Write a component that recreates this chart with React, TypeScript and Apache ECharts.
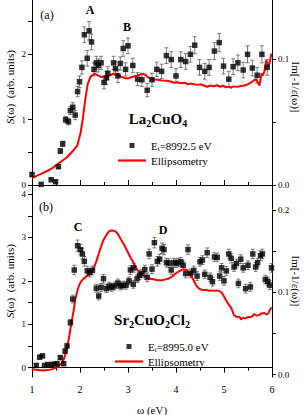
import React, { useEffect, useRef } from "react";
import * as echarts from "echarts";

// ---------- Data ----------
// Panel (a) La2CuO4 : RIXS S(ω) points (x in eV, y in arb. units) with error half-widths
const topPtsX = [1.00, 1.19, 1.40, 1.49, 1.55, 1.59, 1.64, 1.70, 1.76, 1.80, 1.85, 1.90, 1.95, 1.99, 2.04, 2.09, 2.15, 2.19, 2.24, 2.29, 2.34, 2.38, 2.44, 2.50, 2.55, 2.58, 2.70, 2.74, 2.79, 2.84, 2.90, 2.95, 3.00, 3.10, 3.20, 3.29, 3.40, 3.50, 3.60, 3.70, 3.80, 3.90, 4.00, 4.10, 4.20, 4.30, 4.39, 4.49, 4.60, 4.69, 4.80, 4.90, 4.99, 5.10, 5.19, 5.29, 5.40, 5.49, 5.59, 5.69, 5.79, 5.90];
const topPtsY = [0.16, 0.01, 0.08, 0.05, 0.28, 0.52, 0.63, 1.00, 0.97, 1.14, 1.19, 1.07, 1.43, 1.58, 1.80, 2.30, 1.94, 2.36, 2.19, 1.77, 1.87, 1.83, 1.87, 1.57, 1.64, 1.71, 1.87, 1.78, 1.67, 1.86, 2.09, 1.77, 2.13, 1.83, 1.62, 1.61, 1.45, 1.61, 1.77, 1.74, 1.98, 1.92, 1.67, 1.92, 1.89, 2.00, 2.14, 1.80, 1.74, 1.80, 2.05, 2.18, 1.82, 1.62, 1.81, 1.87, 1.76, 2.00, 1.79, 1.68, 2.00, 1.80];
const topPtsErr = [0.03, 0.02, 0.02, 0.02, 0.03, 0.04, 0.04, 0.05, 0.05, 0.06, 0.07, 0.07, 0.08, 0.09, 0.10, 0.12, 0.12, 0.14, 0.12, 0.10, 0.10, 0.10, 0.10, 0.10, 0.10, 0.10, 0.10, 0.10, 0.10, 0.10, 0.12, 0.10, 0.12, 0.11, 0.10, 0.10, 0.10, 0.10, 0.11, 0.11, 0.12, 0.12, 0.11, 0.12, 0.12, 0.12, 0.13, 0.12, 0.12, 0.12, 0.13, 0.14, 0.12, 0.12, 0.12, 0.12, 0.12, 0.13, 0.12, 0.12, 0.13, 0.12];
// Panel (a) ellipsometry Im[-1/ε(ω)]
const topLineX = [1.00, 1.20, 1.39, 1.55, 1.73, 1.85, 1.94, 2.01, 2.06, 2.11, 2.16, 2.22, 2.31, 2.37, 2.43, 2.55, 2.62, 2.70, 2.77, 2.84, 2.92, 3.00, 3.06, 3.12, 3.20, 3.30, 3.36, 3.40, 3.47, 3.54, 3.62, 3.70, 3.82, 3.90, 3.96, 4.03, 4.10, 4.18, 4.25, 4.30, 4.38, 4.45, 4.51, 4.58, 4.65, 4.72, 4.79, 4.85, 4.92, 4.98, 5.04, 5.10, 5.14, 5.20, 5.28, 5.35, 5.42, 5.50, 5.56, 5.62, 5.67, 5.71, 5.74, 5.78, 5.81, 5.84, 5.88, 5.91, 5.95, 5.99];
const topLineY = [0.0055, 0.0090, 0.0125, 0.0170, 0.0220, 0.0270, 0.0310, 0.0410, 0.0530, 0.0680, 0.0800, 0.0860, 0.0885, 0.0870, 0.0860, 0.0855, 0.0870, 0.0885, 0.0880, 0.0862, 0.0850, 0.0845, 0.0855, 0.0862, 0.0870, 0.0882, 0.0875, 0.0860, 0.0845, 0.0838, 0.0835, 0.0830, 0.0827, 0.0820, 0.0812, 0.0815, 0.0808, 0.0812, 0.0800, 0.0805, 0.0800, 0.0795, 0.0800, 0.0790, 0.0780, 0.0790, 0.0784, 0.0792, 0.0780, 0.0788, 0.0776, 0.0781, 0.0772, 0.0783, 0.0779, 0.0786, 0.0790, 0.0800, 0.0812, 0.0830, 0.0840, 0.0810, 0.0790, 0.0885, 0.0870, 0.0900, 0.0990, 0.0940, 0.0970, 0.1045];

// Panel (b) Sr2CuO2Cl2
const botPtsX = [1.09, 1.16, 1.22, 1.26, 1.33, 1.40, 1.47, 1.52, 1.59, 1.66, 1.69, 1.73, 1.80, 1.85, 1.88, 1.95, 2.01, 2.05, 2.09, 2.15, 2.20, 2.26, 2.34, 2.39, 2.44, 2.49, 2.55, 2.61, 2.66, 2.72, 2.79, 2.84, 2.90, 2.96, 3.02, 3.05, 3.11, 3.12, 3.19, 3.24, 3.29, 3.35, 3.40, 3.44, 3.50, 3.55, 3.61, 3.66, 3.71, 3.75, 3.80, 3.85, 3.90, 3.95, 4.00, 4.05, 4.10, 4.15, 4.20, 4.25, 4.30, 4.37, 4.44, 4.50, 4.55, 4.60, 4.65, 4.71, 4.76, 4.80, 4.86, 4.91, 4.95, 5.00, 5.05, 5.10, 5.15, 5.21, 5.26, 5.30, 5.35, 5.40, 5.45, 5.50, 5.55, 5.60, 5.66, 5.70, 5.76, 5.80, 5.86, 5.91, 5.95, 5.99];
const botPtsY = [0.05, 0.24, 0.27, 0.05, 0.07, 0.07, 0.08, 0.09, 0.23, 0.09, 0.38, 0.50, 1.04, 1.58, 2.25, 2.81, 2.72, 2.62, 2.45, 2.23, 2.19, 2.24, 1.83, 1.65, 1.85, 2.05, 1.82, 1.88, 1.85, 1.88, 1.95, 1.88, 1.90, 1.90, 2.00, 2.25, 1.92, 2.30, 2.05, 2.13, 2.17, 2.26, 2.08, 2.62, 2.27, 2.88, 2.45, 2.50, 2.75, 2.72, 2.42, 2.41, 2.25, 2.42, 2.41, 2.42, 2.44, 2.36, 2.17, 2.72, 2.17, 2.24, 2.11, 2.44, 2.48, 2.15, 2.65, 2.08, 1.98, 2.55, 2.54, 2.11, 2.30, 2.00, 2.23, 2.62, 2.52, 2.32, 2.40, 1.94, 2.50, 2.30, 1.82, 2.36, 1.86, 2.62, 2.32, 2.42, 2.58, 2.62, 2.03, 1.99, 1.90, 2.30];
const botPtsErr = [0.03, 0.04, 0.04, 0.03, 0.03, 0.03, 0.03, 0.03, 0.04, 0.04, 0.05, 0.05, 0.07, 0.09, 0.11, 0.13, 0.12, 0.12, 0.11, 0.11, 0.10, 0.10, 0.09, 0.09, 0.09, 0.10, 0.09, 0.09, 0.09, 0.09, 0.09, 0.09, 0.09, 0.09, 0.09, 0.10, 0.09, 0.10, 0.09, 0.10, 0.10, 0.10, 0.10, 0.11, 0.10, 0.12, 0.11, 0.11, 0.12, 0.12, 0.10, 0.10, 0.10, 0.10, 0.10, 0.10, 0.10, 0.10, 0.10, 0.11, 0.10, 0.10, 0.10, 0.10, 0.10, 0.10, 0.11, 0.10, 0.10, 0.10, 0.10, 0.10, 0.10, 0.10, 0.10, 0.11, 0.11, 0.10, 0.10, 0.10, 0.10, 0.10, 0.10, 0.10, 0.10, 0.11, 0.10, 0.10, 0.11, 0.11, 0.10, 0.10, 0.10, 0.10];
const botLineX = [1.00, 1.12, 1.24, 1.38, 1.47, 1.52, 1.58, 1.63, 1.67, 1.70, 1.73, 1.76, 1.80, 1.83, 1.87, 1.90, 1.94, 1.97, 2.02, 2.08, 2.13, 2.18, 2.24, 2.29, 2.34, 2.39, 2.44, 2.49, 2.55, 2.60, 2.66, 2.72, 2.77, 2.81, 2.86, 2.91, 2.98, 3.05, 3.12, 3.19, 3.26, 3.33, 3.43, 3.54, 3.62, 3.71, 3.78, 3.85, 3.92, 3.99, 4.07, 4.15, 4.22, 4.28, 4.34, 4.39, 4.44, 4.50, 4.58, 4.64, 4.69, 4.75, 4.80, 4.86, 4.91, 4.96, 5.00, 5.05, 5.10, 5.14, 5.18, 5.21, 5.25, 5.28, 5.32, 5.35, 5.40, 5.45, 5.50, 5.56, 5.60, 5.63, 5.68, 5.73, 5.78, 5.84, 5.88, 5.91, 5.95, 5.99];
const botLineY = [0.0065, 0.0055, 0.0050, 0.0060, 0.0075, 0.0090, 0.0115, 0.0150, 0.0200, 0.0260, 0.0330, 0.0420, 0.0550, 0.0660, 0.0790, 0.0910, 0.1010, 0.1070, 0.1130, 0.1170, 0.1195, 0.1220, 0.1250, 0.1300, 0.1380, 0.1475, 0.1560, 0.1640, 0.1700, 0.1740, 0.1755, 0.1750, 0.1725, 0.1690, 0.1640, 0.1590, 0.1510, 0.1430, 0.1360, 0.1280, 0.1230, 0.1200, 0.1170, 0.1160, 0.1150, 0.1150, 0.1160, 0.1170, 0.1195, 0.1230, 0.1260, 0.1280, 0.1275, 0.1240, 0.1180, 0.1120, 0.1070, 0.1040, 0.1030, 0.1030, 0.1020, 0.1025, 0.1020, 0.1025, 0.1015, 0.0990, 0.0950, 0.0900, 0.0850, 0.0820, 0.0770, 0.0720, 0.0710, 0.0700, 0.0705, 0.0675, 0.0690, 0.0685, 0.0700, 0.0700, 0.0715, 0.0735, 0.0720, 0.0725, 0.0745, 0.0750, 0.0735, 0.0735, 0.0780, 0.0820];

// axis ticks / labels
const xTicks = [1, 2, 3, 4, 5, 6];
const topLeftLabels = [0, 1, 2];
const topLeftTicks = [0, 0.5, 1, 1.5, 2, 2.5];
const topRightLabels = [0, 0.1];
const topRightTicks = [0, 0.05, 0.1, 0.15];
const botLeftLabels = [0, 1, 2, 3, 4];
const botLeftTicks = [0, 0.5, 1, 1.5, 2, 2.5, 3, 3.5, 4];
const botRightLabels = [0, 0.1, 0.2];
const botRightTicks = [0, 0.05, 0.1, 0.15, 0.2];

const topScatterName = "Ei=8992.5 eV";
const botScatterName = "Ei=8995.0 eV";
const topLineName = "Ellipsometry";
const botLineName = "Ellipsometry ";

const FONT = "Liberation Serif";

function pairs(xs: number[], ys: number[]) {
  return xs.map((x, i) => [x, ys[i]]);
}
function errData(xs: number[], ys: number[], es: number[]) {
  return xs.map((x, i) => [x, ys[i] - es[i], ys[i] + es[i]]);
}

const errRender = (params: any, api: any) => {
  const x = api.value(0);
  const lo = api.coord([x, api.value(1)]);
  const hi = api.coord([x, api.value(2)]);
  const w = 2;
  const st = { stroke: "#6b6b6b", lineWidth: 0.9 };
  return {
    type: "group",
    children: [
      { type: "line", shape: { x1: lo[0], y1: lo[1], x2: hi[0], y2: hi[1] }, style: st },
      { type: "line", shape: { x1: hi[0] - w, y1: hi[1], x2: hi[0] + w, y2: hi[1] }, style: st },
      { type: "line", shape: { x1: lo[0] - w, y1: lo[1], x2: lo[0] + w, y2: lo[1] }, style: st },
    ],
  };
};

const axisLineStyle = { show: true, lineStyle: { color: "#000", width: 1 } };
const labelStyle = { color: "#000", fontFamily: FONT, fontSize: 10, lineHeight: 9 };
const yLabelStyle = { color: "#000", fontFamily: FONT, fontSize: 9, lineHeight: 8 };
const SQUARE = "path://M0,0h10v10h-10z";
const LINEICON = "path://M0,0h28v2.2h-28z";

export default function App() {
  const ref = useRef<HTMLDivElement>(null);
  useEffect(() => {
    if (!ref.current) return;
    const chart = echarts.init(ref.current, null, { renderer: "svg" });
    const rich = {
      n: { fontFamily: FONT, fontSize: 11, color: "#000", lineHeight: 13 },
      s: { fontFamily: FONT, fontSize: 7, color: "#000", lineHeight: 7, verticalAlign: "bottom" },
    };
    const legendFmt = (name: string) => {
      if (name.startsWith("Ei=")) return "{n|E}{s|i}{n|" + name.slice(2) + "}";
      return "{n|Ellipsometry}";
    };
    const bigRich = {
      b: { fontFamily: FONT, fontSize: 15, fontWeight: "bold", color: "#000", lineHeight: 18 },
      s: { fontFamily: FONT, fontSize: 10, fontWeight: "bold", color: "#000", lineHeight: 10, verticalAlign: "bottom" },
    };
    const letter = (text: string, x: number, y: number) => ({
      type: "text",
      x,
      y,
      style: { text, fontFamily: FONT, fontSize: 12, fontWeight: "bold", fill: "#000", align: "center", verticalAlign: "middle" },
    });
    const nameRich = { i: { fontFamily: FONT, fontSize: 11, fontStyle: "italic", color: "#000" } };
    const leftName = {
      name: "{i|S}(ω)  (arb. units)", nameLocation: "middle", nameGap: 17, nameRotate: 90, nameMoveOverlap: false,
      nameTextStyle: { fontFamily: FONT, fontSize: 11, color: "#000", rich: nameRich },
    };
    const rightName = {
      name: "Im[-1/ε(ω)]", nameLocation: "middle", nameGap: 18, nameRotate: -90, nameMoveOverlap: false,
      nameTextStyle: { fontFamily: FONT, fontSize: 11, color: "#000" },
    };
    const option: any = {
      animation: false,
      backgroundColor: "#fff",
      grid: [
        { left: 32, right: 33, top: -11, height: 196, outerBoundsMode: "none", containLabel: false },
        { left: 32, right: 33, top: 185, height: 192, outerBoundsMode: "none", containLabel: false },
      ],
      xAxis: [
        {
          gridIndex: 0, type: "value", min: 1, max: 6, interval: 1,
          axisLine: axisLineStyle,
          axisTick: { show: true, inside: true, length: 5, lineStyle: { color: "#000" } },
          minorTick: { show: true, splitNumber: 2, length: 3, lineStyle: { color: "#000" } },
          axisLabel: { show: false },
          splitLine: { show: false },
        },
        {
          gridIndex: 1, type: "value", min: 1, max: 6, interval: 1,
          axisLine: axisLineStyle,
          axisTick: { show: true, inside: false, length: 5, lineStyle: { color: "#000" } },
          minorTick: { show: true, splitNumber: 2, length: 3, lineStyle: { color: "#000" } },
          axisLabel: { ...labelStyle, margin: 8, customValues: xTicks },
          splitLine: { show: false },
          name: "ω (eV)", nameLocation: "middle", nameGap: 27, nameMoveOverlap: false,
          nameTextStyle: { fontFamily: FONT, fontSize: 11, color: "#000" },
        },
      ],
      yAxis: [
        {
          gridIndex: 0, type: "value", min: 0, max: 3, position: "left",
          axisLine: axisLineStyle,
          axisTick: { show: true, length: 4, customValues: topLeftTicks, lineStyle: { color: "#000" } },
          axisLabel: { ...yLabelStyle, margin: 6, customValues: topLeftLabels },
          splitLine: { show: false },
          ...leftName,
        },
        {
          gridIndex: 0, type: "value", min: 0, max: 0.1556, position: "right",
          axisLine: axisLineStyle,
          axisTick: { show: true, length: 4, customValues: topRightTicks, lineStyle: { color: "#000" } },
          axisLabel: { ...yLabelStyle, margin: 6, customValues: topRightLabels, formatter: (v: number) => v.toFixed(1) },
          splitLine: { show: false },
          ...rightName,
        },
        {
          gridIndex: 1, type: "value", min: -0.217, max: 4.21, position: "left",
          axisLine: axisLineStyle,
          axisTick: { show: true, length: 4, customValues: botLeftTicks, lineStyle: { color: "#000" } },
          axisLabel: { ...yLabelStyle, margin: 6, customValues: botLeftLabels },
          splitLine: { show: false },
          ...leftName,
        },
        {
          gridIndex: 1, type: "value", min: -0.003, max: 0.231, position: "right",
          axisLine: axisLineStyle,
          axisTick: { show: true, length: 4, customValues: botRightTicks, lineStyle: { color: "#000" } },
          axisLabel: { ...yLabelStyle, margin: 6, customValues: botRightLabels, formatter: (v: number) => v.toFixed(1) },
          splitLine: { show: false },
          ...rightName,
        },
      ],
      legend: [
        {
          left: 113, top: 135, orient: "vertical", itemWidth: 28, itemHeight: 5, itemGap: 3,
          data: [{ name: topScatterName, icon: SQUARE }, { name: topLineName, icon: LINEICON }],
          formatter: legendFmt, textStyle: { rich },
          selectedMode: false,
        },
        {
          left: 110, top: 336, orient: "vertical", itemWidth: 28, itemHeight: 5, itemGap: 3,
          data: [{ name: botScatterName, icon: SQUARE }, { name: botLineName, icon: LINEICON }],
          formatter: legendFmt, textStyle: { rich },
          selectedMode: false,
        },
      ],
      series: [
        {
          type: "custom", xAxisIndex: 0, yAxisIndex: 0, renderItem: errRender,
          data: errData(topPtsX, topPtsY, topPtsErr), encode: { x: 0, y: [1, 2] }, z: 1,
        },
        {
          name: topLineName, type: "line", xAxisIndex: 0, yAxisIndex: 1, data: pairs(topLineX, topLineY),
          showSymbol: false, symbol: "none", lineStyle: { color: "#ff0000", width: 2 }, itemStyle: { color: "#ff0000" }, z: 2,
        },
        {
          name: topScatterName, type: "scatter", xAxisIndex: 0, yAxisIndex: 0, data: pairs(topPtsX, topPtsY),
          symbol: "rect", symbolSize: 5.5, itemStyle: { color: "#000" }, z: 3,
        },
        {
          type: "custom", xAxisIndex: 1, yAxisIndex: 2, renderItem: errRender,
          data: errData(botPtsX, botPtsY, botPtsErr), encode: { x: 0, y: [1, 2] }, z: 1,
        },
        {
          name: botLineName, type: "line", xAxisIndex: 1, yAxisIndex: 3, data: pairs(botLineX, botLineY),
          showSymbol: false, symbol: "none", smooth: 0.3, lineStyle: { color: "#ff0000", width: 2 }, itemStyle: { color: "#ff0000" }, z: 2,
        },
        {
          name: botScatterName, type: "scatter", xAxisIndex: 1, yAxisIndex: 2, data: pairs(botPtsX, botPtsY),
          symbol: "rect", symbolSize: 5.5, itemStyle: { color: "#000" }, z: 3,
        },
      ],
      graphic: [
        { type: "text", x: 47, y: 15, style: { text: "(a)", fontFamily: FONT, fontSize: 12, fill: "#000", align: "center", verticalAlign: "middle" } },
        letter("A", 90, 10),
        letter("B", 127, 27),
        { type: "text", x: 46, y: 207, style: { text: "(b)", fontFamily: FONT, fontSize: 12, fill: "#000", align: "center", verticalAlign: "middle" } },
        letter("C", 78, 227),
        letter("D", 163, 230),
        {
          type: "text", x: 158, y: 119,
          style: { text: "{b|La}{s|2}{b|CuO}{s|4}", rich: bigRich, align: "center", verticalAlign: "middle" },
        },
        {
          type: "text", x: 152, y: 320,
          style: { text: "{b|Sr}{s|2}{b|CuO}{s|2}{b|Cl}{s|2}", rich: bigRich, align: "center", verticalAlign: "middle" },
        },
      ],
    };
    chart.setOption(option);
    return () => chart.dispose();
  }, []);
  return (
    <div
      ref={ref}
      style={{ position: "fixed", left: 0, top: 0, width: 305, height: 415, background: "#fff" }}
    />
  );
}
